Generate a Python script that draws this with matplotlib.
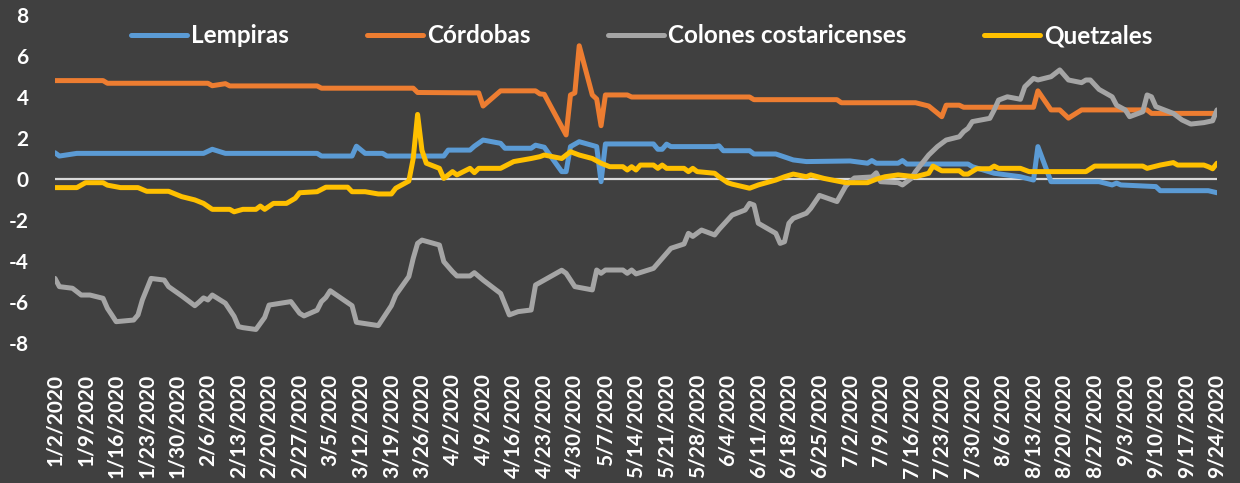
import matplotlib as mpl
mpl.use('Agg')

import pandas as pd
import matplotlib.pyplot as plt

# Daily currency series, one date list and one value list per currency

lempiras_dates = ['1/2', '1/3', '1/7',
                  '2/5', '2/7', '2/10',
                  '3/2', '3/3', '3/10', '3/11', '3/13', '3/17', '3/18', '3/31',
                  '4/1', '4/6', '4/7', '4/9', '4/13', '4/14', '4/20', '4/21', '4/23', '4/27', '4/28', '4/29',
                  '5/1', '5/5', '5/6', '5/7', '5/18', '5/19', '5/20', '5/21', '5/22',
                  '6/1', '6/2', '6/3', '6/9', '6/10', '6/15', '6/19', '6/22',
                  '7/2', '7/6', '7/7', '7/8', '7/13', '7/14', '7/15', '7/29', '7/30',
                  '8/4', '8/10', '8/13', '8/14', '8/17', '8/28', '8/31',
                  '9/1', '9/2', '9/10', '9/11', '9/22', '9/24']
lempiras_values = [1.28, 1.12, 1.25,
                   1.25, 1.45, 1.25,
                   1.25, 1.12, 1.12, 1.6, 1.25, 1.25, 1.12, 1.12,
                   1.41, 1.41, 1.6, 1.9, 1.74, 1.5, 1.5, 1.65, 1.55, 0.36, 0.36, 1.58,
                   1.82, 1.58, -0.13, 1.71, 1.71, 1.45, 1.45, 1.7, 1.58,
                   1.58, 1.62, 1.38, 1.38, 1.22, 1.22, 0.93, 0.85,
                   0.88, 0.77, 0.9, 0.77, 0.77, 0.9, 0.73, 0.73, 0.6,
                   0.28, 0.11, -0.05, 1.58, -0.13, -0.13, -0.29,
                   -0.2, -0.29, -0.37, -0.57, -0.57, -0.67]

cordobas_dates = ['1/2', '1/13', '1/14',
                  '2/6', '2/7', '2/10', '2/11',
                  '3/2', '3/3', '3/24', '3/25',
                  '4/8', '4/9', '4/13', '4/21', '4/22', '4/23', '4/28', '4/29', '4/30',
                  '5/1', '5/4', '5/5', '5/6', '5/7', '5/12', '5/13',
                  '6/9', '6/10', '6/29', '6/30',
                  '7/17', '7/20', '7/23', '7/24', '7/27', '7/28',
                  '8/13', '8/14', '8/17', '8/19', '8/21', '8/24',
                  '9/8', '9/9', '9/24']
cordobas_values = [4.8, 4.8, 4.67,
                   4.67, 4.55, 4.65, 4.54,
                   4.54, 4.43, 4.43, 4.22,
                   4.2, 3.56, 4.3, 4.3, 4.15, 4.13, 2.15, 4.1, 4.2,
                   6.5, 4.1, 3.9, 2.6, 4.1, 4.1, 4.0,
                   4.0, 3.87, 3.87, 3.72,
                   3.72, 3.56, 3.04, 3.6, 3.6, 3.5,
                   3.5, 4.3, 3.37, 3.37, 2.97, 3.37,
                   3.37, 3.2, 3.2]

colones_dates = ['1/2', '1/3', '1/6', '1/8', '1/10', '1/13', '1/14', '1/15', '1/16', '1/20', '1/21', '1/22', '1/24', '1/27', '1/28', '1/31',
                 '2/3', '2/4', '2/5', '2/6', '2/7', '2/10', '2/12', '2/13', '2/14', '2/17', '2/19', '2/20', '2/25', '2/27', '2/28',
                 '3/2', '3/3', '3/4', '3/5', '3/10', '3/11', '3/16', '3/19', '3/20', '3/23', '3/24', '3/25', '3/26', '3/30', '3/31',
                 '4/2', '4/3', '4/6', '4/7', '4/9', '4/13', '4/15', '4/17', '4/20', '4/21', '4/23', '4/27', '4/28', '4/30',
                 '5/4', '5/5', '5/6', '5/7', '5/11', '5/12', '5/13', '5/14', '5/18', '5/20', '5/22', '5/25', '5/26', '5/27', '5/29',
                 '6/1', '6/2', '6/5', '6/8', '6/9', '6/10', '6/11', '6/15', '6/16', '6/17', '6/18', '6/19', '6/22', '6/23', '6/25', '6/29',
                 '7/1', '7/2', '7/3', '7/7', '7/8', '7/9', '7/13', '7/14', '7/16', '7/17', '7/20', '7/22', '7/24', '7/27', '7/28', '7/29', '7/30',
                 '8/3', '8/4', '8/5', '8/7', '8/10', '8/11', '8/13', '8/14', '8/17', '8/19', '8/21', '8/24', '8/25', '8/26', '8/28', '8/31',
                 '9/1', '9/3', '9/4', '9/7', '9/8', '9/9', '9/10', '9/14', '9/16', '9/18', '9/21', '9/23', '9/24']
colones_values = [-4.85, -5.25, -5.33, -5.66, -5.66, -5.82, -6.31, -6.63, -6.96, -6.88, -6.63, -5.9, -4.85, -4.93, -5.25, -5.7,
                  -6.18, -6.0, -5.8, -5.9, -5.66, -6.06, -6.7, -7.2, -7.25, -7.34, -6.75, -6.15, -5.98, -6.55, -6.68,
                  -6.4, -5.98, -5.78, -5.45, -6.18, -6.99, -7.15, -6.18, -5.66, -4.76, -3.87, -3.14, -2.98, -3.22, -4.03,
                  -4.52, -4.73, -4.73, -4.57, -4.93, -5.58, -6.63, -6.47, -6.39, -5.17, -4.93, -4.45, -4.6, -5.25,
                  -5.41, -4.44, -4.6, -4.44, -4.44, -4.6, -4.44, -4.63, -4.36, -3.87, -3.38, -3.17, -2.65, -2.8, -2.49,
                  -2.73, -2.46, -1.76, -1.51, -1.19, -1.27, -2.16, -2.65, -3.14, -3.06, -2.16, -1.92, -1.67, -1.43, -0.8, -1.1,
                  -0.35, -0.13, 0.05, 0.1, 0.3, -0.13, -0.18, -0.29, 0.03, 0.36, 1.17, 1.58, 1.9, 2.06, 2.31, 2.47, 2.8,
                  2.96, 3.37, 3.85, 4.01, 3.89, 4.5, 4.91, 4.83, 4.99, 5.32, 4.83, 4.7, 4.83, 4.83, 4.37, 4.01,
                  3.6, 3.37, 3.04, 3.28, 4.1, 4.01, 3.53, 3.2, 2.88, 2.68, 2.75, 2.84, 3.37]

quetzales_dates = ['1/2', '1/7', '1/9', '1/13', '1/14', '1/17', '1/21', '1/23', '1/28', '1/31',
                   '2/3', '2/5', '2/7', '2/11', '2/12', '2/14', '2/17', '2/18', '2/19', '2/21', '2/24', '2/26', '2/27',
                   '3/2', '3/4', '3/9', '3/10', '3/13', '3/16', '3/19', '3/20', '3/23', '3/24', '3/25', '3/26', '3/27', '3/30', '3/31',
                   '4/2', '4/3', '4/6', '4/7', '4/8', '4/13', '4/16', '4/20', '4/22', '4/23', '4/27', '4/29',
                   '5/1', '5/4', '5/6', '5/8', '5/11', '5/12', '5/13', '5/14', '5/15', '5/18', '5/19', '5/20', '5/21', '5/25', '5/26', '5/27', '5/28',
                   '6/1', '6/2', '6/4', '6/5', '6/9', '6/11', '6/15', '6/17', '6/19', '6/22', '6/23', '6/26',
                   '7/1', '7/6', '7/8', '7/10', '7/13', '7/17', '7/20', '7/21', '7/23', '7/27', '7/28', '7/29', '7/31',
                   '8/3', '8/4', '8/5', '8/10', '8/12', '8/25', '8/27',
                   '9/7', '9/8', '9/11', '9/14', '9/15', '9/21', '9/22', '9/23', '9/24']
quetzales_values = [-0.42, -0.42, -0.18, -0.18, -0.3, -0.42, -0.42, -0.6, -0.6, -0.86,
                    -1.02, -1.19, -1.48, -1.48, -1.6, -1.48, -1.48, -1.32, -1.48, -1.19, -1.19, -0.94, -0.67,
                    -0.62, -0.4, -0.4, -0.62, -0.62, -0.73, -0.73, -0.45, -0.1, 1.0, 3.15, 1.4, 0.77, 0.52, 0.03,
                    0.36, 0.2, 0.52, 0.31, 0.52, 0.52, 0.85, 1.0, 1.09, 1.17, 1.0, 1.33,
                    1.17, 1.0, 0.77, 0.6, 0.6, 0.44, 0.6, 0.44, 0.68, 0.68, 0.52, 0.68, 0.52, 0.52, 0.36, 0.52, 0.36,
                    0.28, 0.11, -0.18, -0.25, -0.45, -0.29, -0.05, 0.11, 0.24, 0.11, 0.2, 0.03,
                    -0.18, -0.18, -0.01, 0.11, 0.2, 0.11, 0.28, 0.63, 0.4, 0.4, 0.24, 0.24, 0.5,
                    0.5, 0.63, 0.52, 0.52, 0.36, 0.36, 0.63,
                    0.63, 0.52, 0.68, 0.8, 0.68, 0.68, 0.6, 0.5, 0.77]

series_names = ['Lempiras', 'Córdobas', 'Colones costaricenses', 'Quetzales']
series_colors = ['#5B9BD5', '#ED7D31', '#A5A5A5', '#FFC000']

tick_labels = ['1/2/2020', '1/9/2020', '1/16/2020', '1/23/2020', '1/30/2020', '2/6/2020', '2/13/2020',
               '2/20/2020', '2/27/2020', '3/5/2020', '3/12/2020', '3/19/2020', '3/26/2020', '4/2/2020',
               '4/9/2020', '4/16/2020', '4/23/2020', '4/30/2020', '5/7/2020', '5/14/2020', '5/21/2020',
               '5/28/2020', '6/4/2020', '6/11/2020', '6/18/2020', '6/25/2020', '7/2/2020', '7/9/2020',
               '7/16/2020', '7/23/2020', '7/30/2020', '8/6/2020', '8/13/2020', '8/20/2020', '8/27/2020',
               '9/3/2020', '9/10/2020', '9/17/2020', '9/24/2020']


def to_dates(days):
    return pd.to_datetime([d + '/2020' for d in days], format='%m/%d/%Y')


all_series = [(lempiras_dates, lempiras_values),
              (cordobas_dates, cordobas_values),
              (colones_dates, colones_values),
              (quetzales_dates, quetzales_values)]

plt.rcParams['font.family'] = ['Lato', 'DejaVu Sans']
plt.rcParams['font.weight'] = 'bold'
plt.rcParams['axes.unicode_minus'] = False   # plain hyphen like the original

bg = '#404040'
fig = plt.figure(figsize=(12.4, 4.83), dpi=100, facecolor=bg)
ax = fig.add_axes([55 / 1240, 140 / 483, 1162 / 1240, 328 / 483], facecolor=bg)

# zero line behind the series
ax.axhline(0, color='#D9D9D9', linewidth=1.6, zorder=1)

for (days, vals), name, col in zip(all_series, series_names, series_colors):
    ax.plot(to_dates(days), vals, color=col, linewidth=3.6, label=name,
            solid_capstyle='round', solid_joinstyle='round', zorder=2)

ticks = pd.to_datetime(tick_labels, format='%m/%d/%Y')
ax.set_xticks(ticks)
ax.set_xticklabels(tick_labels, rotation=90, va='top', ha='center')
ax.set_xlim(ticks[0], ticks[-1])

ax.set_ylim(-8, 8)
ax.set_yticks(range(-8, 9, 2))

ax.tick_params(axis='both', length=0, colors='white', labelsize=15)
ax.tick_params(axis='x', pad=22)
ax.tick_params(axis='y', pad=19)
for s in ax.spines.values():
    s.set_visible(False)

leg = ax.legend(loc='center', bbox_to_anchor=(0.505, 0.936), ncol=4, frameon=False,
                handlelength=2.3, handletextpad=0.17, columnspacing=3.2,
                prop={'size': 17.5, 'weight': 'bold'})
for t in leg.get_texts():
    t.set_color('white')

plt.savefig('out.png', dpi=100, facecolor=bg)
plt.close()
